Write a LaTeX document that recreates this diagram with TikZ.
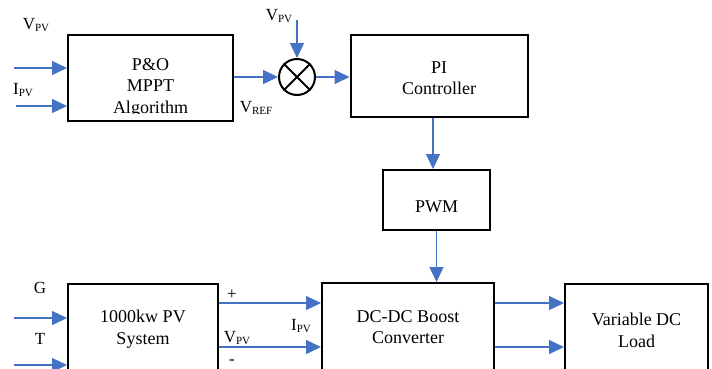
\documentclass[tikz,border=0pt]{standalone}
\usepackage{fontspec}
\setmainfont{Liberation Serif}
\usetikzlibrary{arrows.meta}
\definecolor{arrblue}{HTML}{4472C4}
\newcommand{\subtx}[1]{{\fontsize{11}{11}\selectfont\raisebox{-1.5pt}{#1}}}
\tikzset{
  blockbox/.style={draw=black, line width=2pt, rectangle, inner sep=0pt},
  blocktxt/.style={align=center, inner sep=0pt, font=\fontsize{18}{21.5}\selectfont},
  lbl/.style={inner sep=0pt, font=\fontsize{17}{20}\selectfont},
  conn/.style={draw=arrblue, line width=1.4pt, -{Triangle[length=15pt,width=14pt]}},
}
\begin{document}
\begin{tikzpicture}[x=1pt,y=-1pt]
\useasboundingbox (0,0) rectangle (712,368);
\clip (0,0) rectangle (712,368);
% boxes
\node[blockbox, minimum width=165pt, minimum height=86pt] (po) at (150.5,78) {};
\node[blockbox, minimum width=177pt, minimum height=82pt] (pi) at (439,76) {};
\node[blockbox, minimum width=107pt, minimum height=60pt] (pwm) at (436.5,200) {};
\node[blockbox, minimum width=150pt, minimum height=116pt] (pv) at (143,342) {};
\node[blockbox, minimum width=172pt, minimum height=117pt] (dc) at (408,341.5) {};
\node[blockbox, minimum width=143pt, minimum height=116pt] (load) at (636.5,342) {};
\node[draw=black, line width=2pt, circle, minimum size=36pt, inner sep=0pt] (mix) at (297,77) {};
\draw[line width=2pt] (mix.north west) -- (mix.south east) (mix.north east) -- (mix.south west);
% box texts
\begin{scope}
\clip (70,37) rectangle (231,113);
\node[blocktxt] (potxt) at (150.5,87.5) {P\&O\\MPPT\\Algorithm};
\end{scope}
\node[blocktxt] (pitxt) at (439,78) {PI\\Controller};
\node[blocktxt] (pwmtxt) at (436.5,207) {PWM};
\node[blocktxt] (pvtxt) at (143,329) {1000kw PV\\System};
\node[blocktxt] (dctxt) at (408,327) {DC-DC Boost\\Converter};
\node[blocktxt] (loadtxt) at (636.5,330.5) {Variable DC\\Load};
% free ends
\coordinate (i1) at (14,68);
\coordinate (i2) at (16,106);
\coordinate (vtop) at (297,20);
\coordinate (ax) at (433,0);
\coordinate (i3) at (14,318);
\coordinate (i4) at (14,365);
\coordinate (yp) at (0,303);
\coordinate (ym) at (0,347);
% connectors
\draw[conn] (i1) -- (i1 -| po.west);
\draw[conn] (i2) -- (i2 -| po.west);
\draw[conn] (po.east |- mix.west) -- (mix.west);
\draw[conn] (mix.east) -- (mix.east -| pi.west);
\draw[conn] (vtop) -- (mix.north);
\draw[conn] (pi.south -| ax) -- (pwm.north -| ax);
\draw[conn] (pwm.south) -- (pwm.south |- dc.north);
\draw[conn] (i3) -- (i3 -| pv.west);
\draw[conn] (i4) -- (i4 -| pv.west);
\draw[conn] (pv.east |- yp) -- (dc.west |- yp);
\draw[conn] (pv.east |- ym) -- (dc.west |- ym);
\draw[conn] (dc.east |- yp) -- (load.west |- yp);
\draw[conn] (dc.east |- ym) -- (load.west |- ym);
% labels
\node[lbl] (l1) at (36,25) {V\subtx{PV}};
\node[lbl] (l2) at (23,90) {I\subtx{PV}};
\node[lbl] (l3) at (279,16) {V\subtx{PV}};
\node[lbl] (l4) at (256,108) {V\subtx{REF}};
\node[lbl] (l5) at (40,288) {G};
\node[lbl] (l6) at (40,339) {T};
\node[lbl] (l7) at (232,295) {+};
\node[lbl] (l8) at (237,338) {V\subtx{PV}};
\node[lbl] (l9) at (232,362) {-};
\node[lbl] (l10) at (301,326) {I\subtx{PV}};
\end{tikzpicture}
\end{document}
